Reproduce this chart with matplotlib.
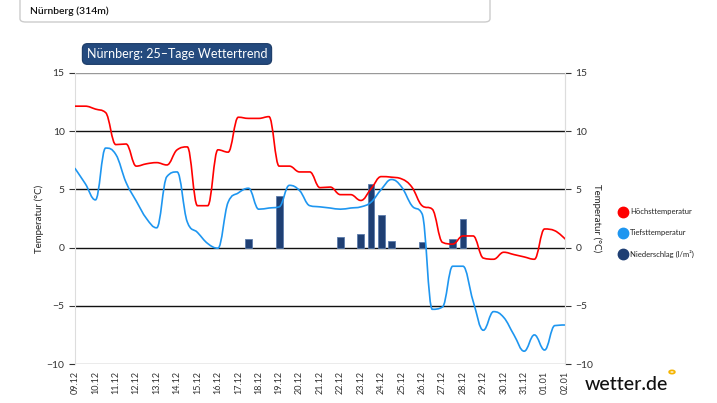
import numpy as np
import matplotlib
matplotlib.use("Agg")
from matplotlib import pyplot as plt
from matplotlib.path import Path
from matplotlib.patches import PathPatch, FancyBboxPatch, Circle
from matplotlib.lines import Line2D

plt.rcParams['font.family'] = ['Lato', 'DejaVu Sans']

# Data (12h steps, 09.12 .. 02.01)
dates = ['09.12', '10.12', '11.12', '12.12', '13.12', '14.12', '15.12', '16.12',
         '17.12', '18.12', '19.12', '20.12', '21.12', '22.12', '23.12', '24.12',
         '25.12', '26.12', '27.12', '28.12', '29.12', '30.12', '31.12', '01.01', '02.01']

t_max = [12.15, 12.15, 11.9, 11.6, 8.85, 8.9, 7.0, 7.2, 7.3, 7.1,
         8.4, 8.65, 3.6, 3.6, 8.4, 8.2, 11.2, 11.1, 11.1, 11.25,
         7.0, 7.0, 6.5, 6.5, 5.15, 5.2, 4.55, 4.55, 4.05, 5.05,
         6.1, 6.05, 5.9, 5.2, 3.6, 3.3, 0.45, 0.3, 1.0, 1.0,
         -0.9, -1.0, -0.4, -0.6, -0.8, -1.0, 1.6, 1.45, 0.75]

t_min = [6.8, 5.5, 4.1, 8.55, 8.0, 5.6, 4.0, 2.5, 1.7, 6.1,
         6.5, 2.2, 1.3, 0.35, -0.05, 3.9, 4.7, 5.1, 3.3, 3.4,
         3.5, 5.35, 4.9, 3.6, 3.5, 3.4, 3.3, 3.4, 3.5, 3.9,
         5.0, 5.85, 5.2, 3.6, 2.9, -5.3, -5.1, -1.6, -1.6, -4.6,
         -7.1, -5.5, -6.0, -7.5, -8.9, -7.5, -8.8, -6.7, -6.65]

rain_day = [8.5, 10.0, 13.0, 14.0, 14.5, 15.0, 15.5, 17.0, 18.5, 19.0]
rain_val = [0.7, 4.4, 0.95, 1.2, 5.5, 2.8, 0.6, 0.5, 0.7, 2.5]

legend_labels = ['Höchsttemperatur', 'Tiefsttemperatur', 'Niederschlag (l/m²)']
legend_colors = ['#ff0000', '#1e96f0', '#1f3f73']

x = np.arange(len(t_max)) * 0.5


def spline_path(xs, ys, smoothing=1.5):
    # bezier spline like the web chart draws it
    n = len(xs)
    denom = smoothing + 1
    left = [(xs[0], ys[0])] * n
    right = [(xs[0], ys[0])] * n
    for i in range(n):
        px, py = xs[i], ys[i]
        if i == 0 or i == n - 1:
            left[i] = (px, py)
            right[i] = (px, py)
            continue
        lx, ly = xs[i - 1], ys[i - 1]
        nx, ny = xs[i + 1], ys[i + 1]
        lcx = (smoothing * px + lx) / denom
        lcy = (smoothing * py + ly) / denom
        rcx = (smoothing * px + nx) / denom
        rcy = (smoothing * py + ny) / denom
        if rcx != lcx:
            corr = (rcy - lcy) * (rcx - px) / (rcx - lcx) + py - rcy
            lcy += corr
            rcy += corr
        if lcy > max(ly, py):
            lcy = max(ly, py)
            rcy = 2 * py - lcy
        elif lcy < min(ly, py):
            lcy = min(ly, py)
            rcy = 2 * py - lcy
        if rcy > max(py, ny):
            rcy = max(py, ny)
            lcy = 2 * py - rcy
        elif rcy < min(py, ny):
            rcy = min(py, ny)
            lcy = 2 * py - rcy
        left[i] = (lcx, lcy)
        right[i] = (rcx, rcy)
    verts = [(xs[0], ys[0])]
    codes = [Path.MOVETO]
    for i in range(1, n):
        verts += [right[i - 1], left[i], (xs[i], ys[i])]
        codes += [Path.CURVE4] * 3
    return Path(verts, codes)


W, H = 717, 403
fig = plt.figure(figsize=(W / 100, H / 100), dpi=100)
ax = fig.add_axes([75 / W, 1 - 364 / H, 490 / W, 291 / H])

ax.set_xlim(0, 24)
ax.set_ylim(-10, 15)

# grid lines
for v in [-5, 0, 5, 10]:
    ax.axhline(v, color='#111111', lw=1.0, zorder=1)
for v in [-10, 15]:
    ax.axhline(v, color='#999999', lw=1.0, zorder=1)

ax.bar(rain_day, rain_val, width=0.33, color='#1f3f73', edgecolor='#5c7cab',
       linewidth=0.6, zorder=2)

ax.add_patch(PathPatch(spline_path(x, t_max), fill=False, edgecolor='#ff0000',
                       lw=1.2, zorder=3, capstyle='round'))
ax.add_patch(PathPatch(spline_path(x, t_min), fill=False, edgecolor='#1e96f0',
                       lw=1.2, zorder=3, capstyle='round'))

for s in ['top', 'bottom']:
    ax.spines[s].set_visible(False)
for s in ['left', 'right']:
    ax.spines[s].set_color('#dddddd')
    ax.spines[s].set_linewidth(0.8)

ax.set_yticks([-10, -5, 0, 5, 10, 15])
ax.tick_params(axis='y', labelsize=7.5, colors='#333333', length=4, width=0.8)
ax.set_xticks(range(len(dates)))
ax.set_xticklabels(dates, rotation=90, fontsize=6.5, color='#333333')
ax.tick_params(axis='x', length=0, pad=5)
ax.set_ylabel('Temperatur (°C)', fontsize=7, color='#222222')
ax.yaxis.set_label_coords(-(75 - 44) / 490, 0.5)

ax2 = ax.twinx()
ax2.set_ylim(-10, 15)
ax2.set_yticks([-10, -5, 0, 5, 10, 15])
ax2.tick_params(axis='y', labelsize=7.5, colors='#333333', length=4, width=0.8)
for s in ['top', 'bottom', 'left']:
    ax2.spines[s].set_visible(False)
ax2.spines['right'].set_color('#dddddd')
ax2.set_ylabel('Temperatur (°C)', fontsize=7, color='#222222', rotation=270,
               va='center')
ax2.yaxis.set_label_coords((597 - 75) / 490, 0.5)

# header box
fig.add_artist(FancyBboxPatch((20 / W, 1 - 22 / H), 470 / W, 40 / H,
                              boxstyle='round,pad=0,rounding_size=0.008',
                              transform=fig.transFigure, facecolor='white',
                              edgecolor='#cccccc', lw=1.0))
fig.text(30 / W, 1 - 11 / H, 'Nürnberg (314m)', fontsize=7.5, weight='semibold',
         va='center', ha='left', color='#111111')

# title badge
fig.text(177 / W, 1 - 54 / H, 'Nürnberg: 25–Tage Wettertrend', fontsize=9,
         color='white', ha='center', va='center',
         bbox=dict(boxstyle='round,pad=0.35,rounding_size=0.4', fc='#244a7e',
                   ec='#1a3a66', lw=0.8))

# legend
for i, (lab, col) in enumerate(zip(legend_labels, legend_colors)):
    yy = 1 - (211.7 + i * 21.2) / H
    fig.add_artist(Line2D([622.7 / W], [yy], marker='o', markersize=7.5,
                          color=col, linestyle='none',
                          transform=fig.transFigure))
    fig.text(630 / W, yy, lab, fontsize=5.5, va='center', ha='left',
             color='#222222')

# logo
fig.text(585 / W, 1 - 384 / H, 'wetter.de', fontsize=14, va='center',
         ha='left', color='#111111', weight='medium')
fig.add_artist(Circle((672 / W, 1 - 372 / H), 2.8 / W, transform=fig.transFigure,
                      facecolor='none', edgecolor='#f5b400', lw=1.3))

fig.savefig('out.png', dpi=100)
